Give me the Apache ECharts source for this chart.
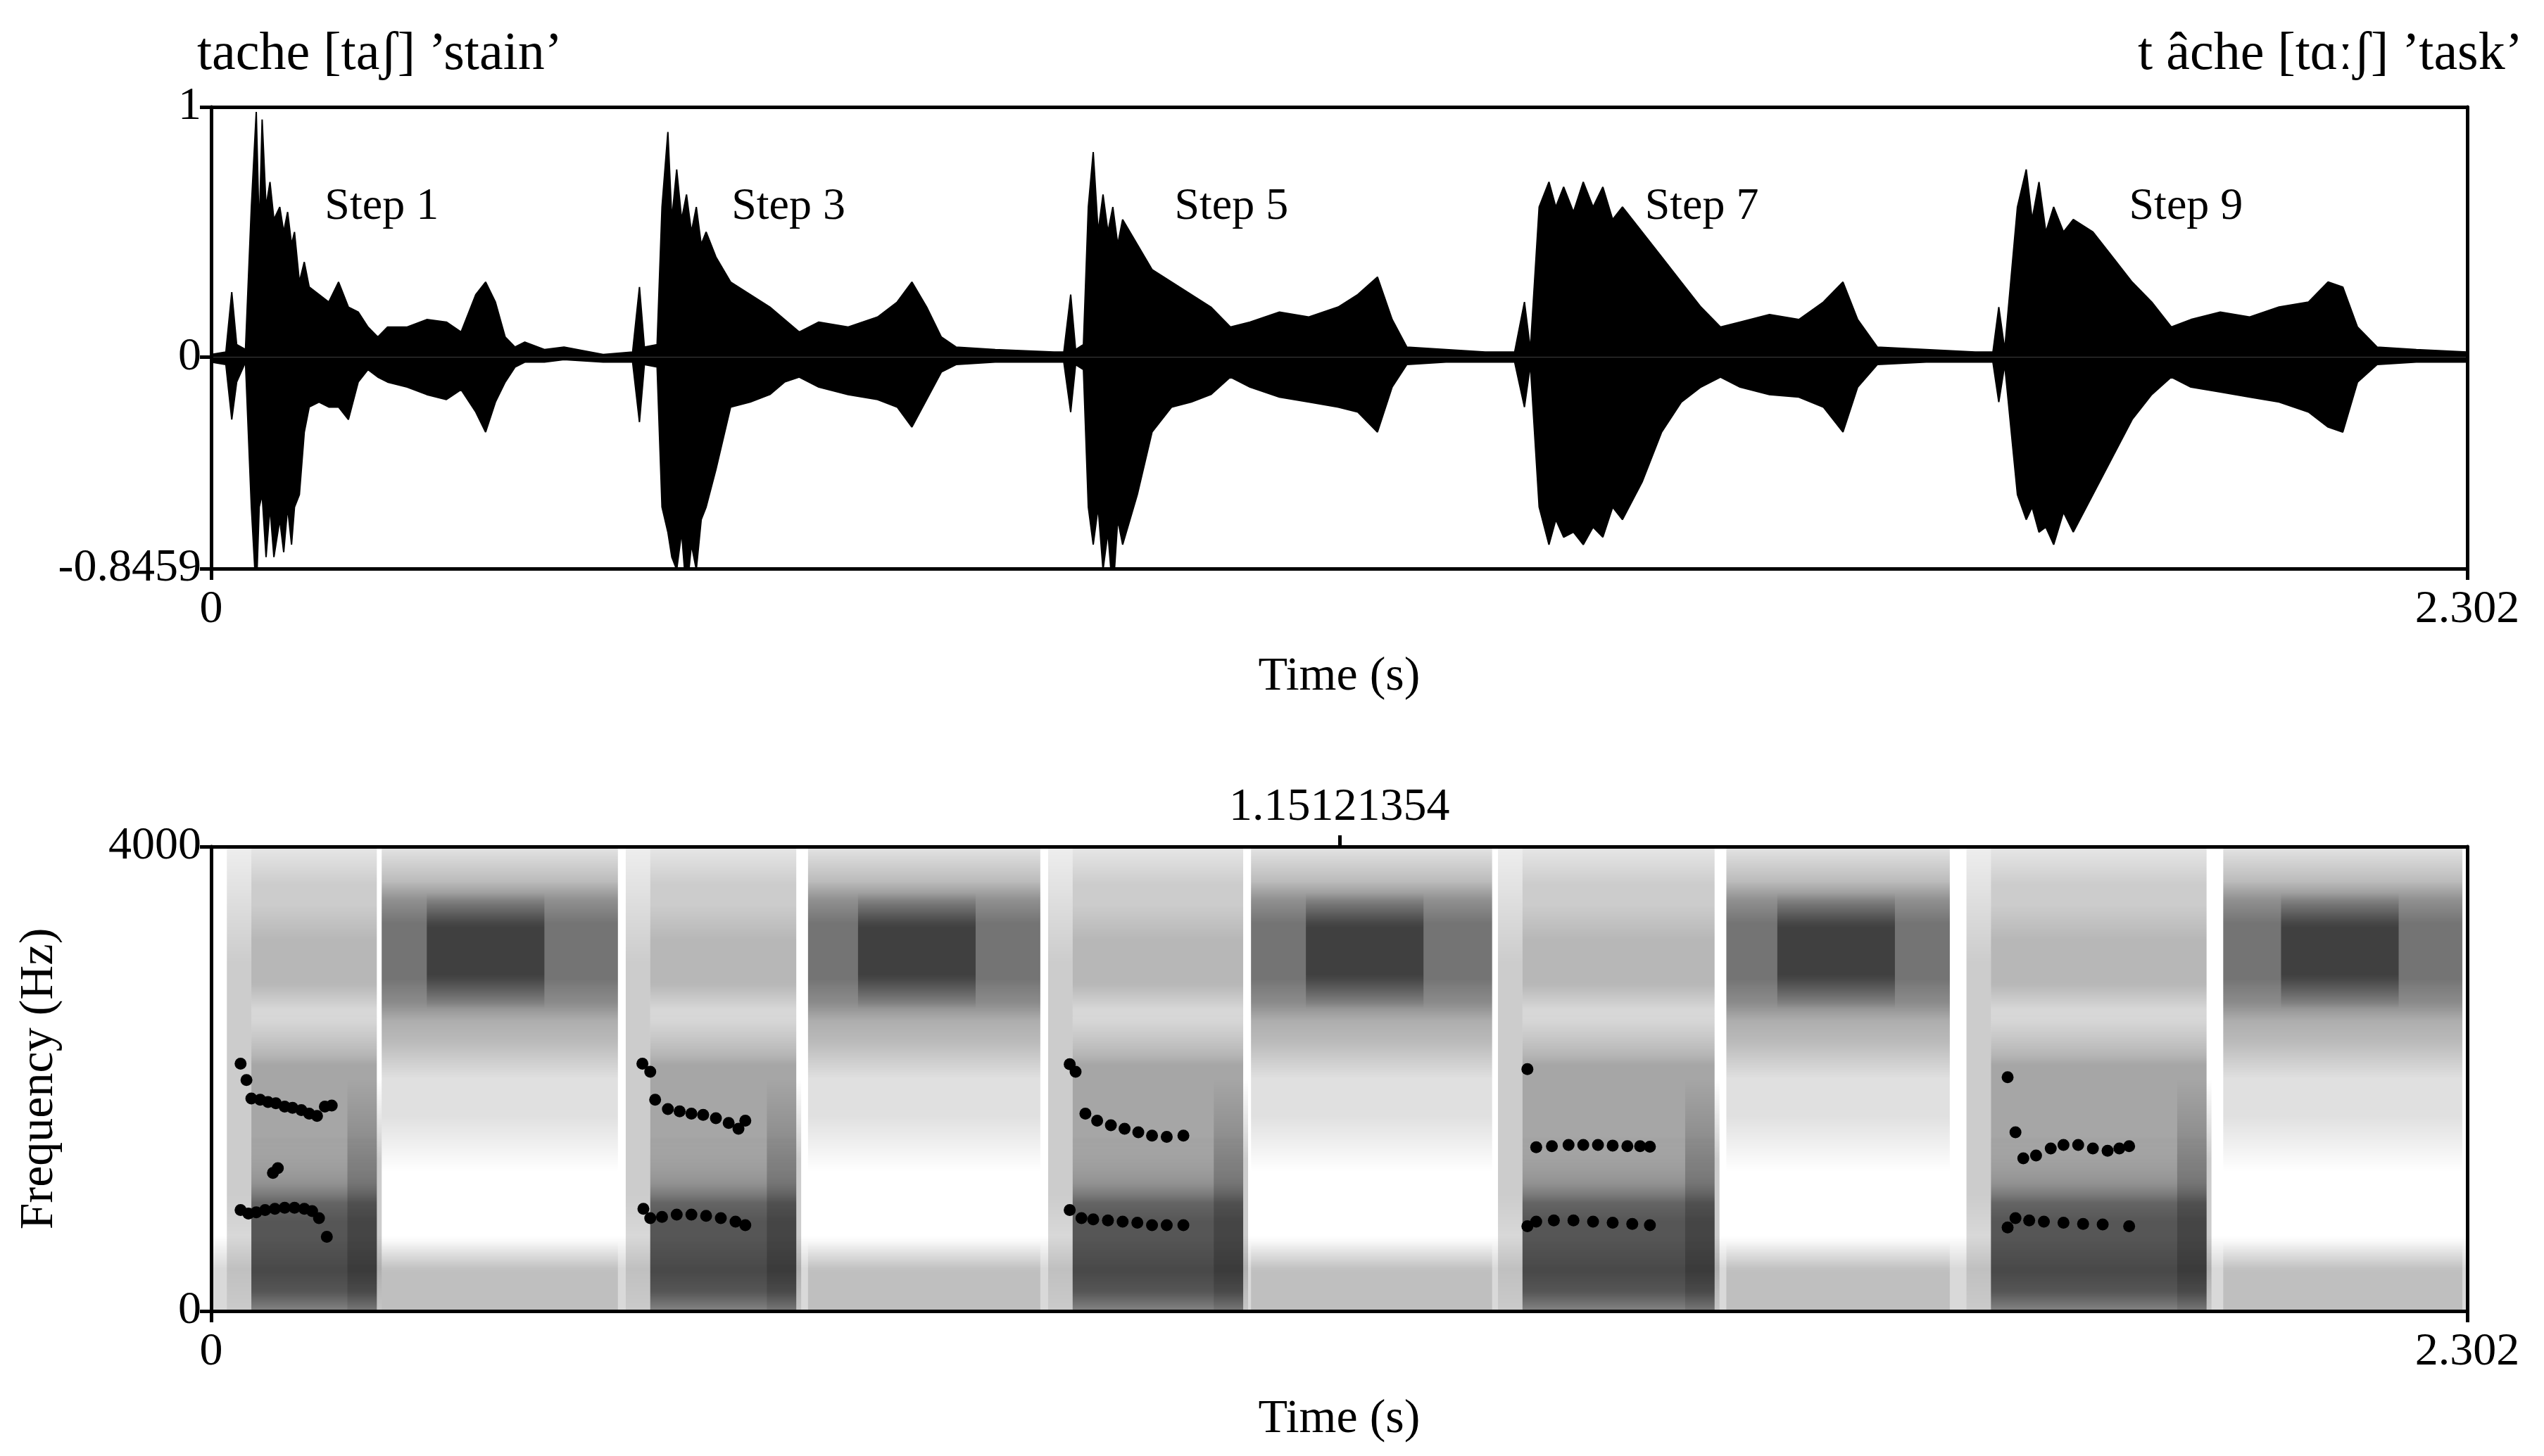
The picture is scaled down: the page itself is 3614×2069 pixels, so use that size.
<!DOCTYPE html><html><head><meta charset="utf-8"><script src="https://cdn.jsdelivr.net/npm/echarts@6/dist/echarts.min.js"></script>
<style>html,body{margin:0;background:#fff}#c{width:3614px;height:2069px}</style></head><body><div id="c"></div><script>
// waveform envelope [t, upper, lower]
const envelope=[
[0,0.01,-0.02],[0.015,0.02,-0.03],[0.021,0.26,-0.25],[0.026,0.05,-0.1],[0.035,0.03,-0.02],[0.041,0.6,-0.6],[0.046,0.98,-0.95],[0.049,0.5,-0.6],[0.052,0.95,-0.55],[0.056,0.6,-0.8],[0.06,0.7,-0.6],[0.064,0.55,-0.8],[0.07,0.6,-0.65],[0.074,0.5,-0.78],[0.078,0.58,-0.6],[0.082,0.45,-0.75],[0.085,0.5,-0.6],[0.09,0.3,-0.55],[0.095,0.38,-0.3],[0.1,0.28,-0.2],[0.11,0.25,-0.18],[0.12,0.22,-0.2],[0.13,0.3,-0.2],[0.14,0.2,-0.25],[0.15,0.18,-0.1],[0.16,0.12,-0.05],[0.17,0.08,-0.08],[0.18,0.12,-0.1],[0.2,0.12,-0.12],[0.22,0.15,-0.15],[0.24,0.14,-0.17],[0.255,0.1,-0.13],[0.27,0.25,-0.22],[0.28,0.3,-0.3],[0.29,0.22,-0.18],[0.3,0.08,-0.1],[0.31,0.04,-0.04],[0.32,0.06,-0.02],[0.34,0.03,-0.02],[0.36,0.04,-0.01],[0.4,0.01,-0.02],
[0.43,0.02,-0.02],[0.437,0.28,-0.26],[0.442,0.04,-0.03],[0.455,0.05,-0.04],[0.46,0.6,-0.6],[0.466,0.9,-0.7],[0.47,0.55,-0.8],[0.475,0.75,-0.85],[0.48,0.55,-0.7],[0.485,0.65,-0.95],[0.49,0.5,-0.75],[0.495,0.6,-0.85],[0.5,0.45,-0.65],[0.505,0.5,-0.6],[0.515,0.4,-0.45],[0.53,0.3,-0.2],[0.55,0.25,-0.18],[0.57,0.2,-0.15],[0.585,0.15,-0.1],[0.6,0.1,-0.08],[0.62,0.14,-0.12],[0.65,0.12,-0.15],[0.68,0.16,-0.17],[0.7,0.22,-0.2],[0.715,0.3,-0.28],[0.73,0.2,-0.17],[0.745,0.08,-0.06],[0.76,0.04,-0.03],[0.8,0.03,-0.02],[0.86,0.02,-0.02],
[0.87,0.02,-0.02],[0.877,0.25,-0.22],[0.882,0.03,-0.03],[0.89,0.05,-0.05],[0.895,0.6,-0.6],[0.9,0.82,-0.75],[0.905,0.5,-0.6],[0.91,0.65,-0.85],[0.915,0.5,-0.7],[0.92,0.6,-0.95],[0.925,0.45,-0.65],[0.93,0.55,-0.75],[0.945,0.45,-0.55],[0.96,0.35,-0.3],[0.98,0.3,-0.2],[1.0,0.25,-0.18],[1.02,0.2,-0.15],[1.04,0.12,-0.08],[1.06,0.14,-0.12],[1.09,0.18,-0.16],[1.12,0.16,-0.18],[1.15,0.2,-0.2],[1.17,0.25,-0.22],[1.19,0.32,-0.3],[1.205,0.15,-0.12],[1.22,0.04,-0.03],[1.26,0.03,-0.02],[1.3,0.02,-0.02],
[1.33,0.02,-0.02],[1.34,0.22,-0.2],[1.346,0.03,-0.03],[1.355,0.6,-0.6],[1.365,0.7,-0.75],[1.372,0.6,-0.65],[1.38,0.68,-0.72],[1.39,0.58,-0.7],[1.4,0.7,-0.75],[1.41,0.6,-0.68],[1.42,0.68,-0.72],[1.43,0.55,-0.6],[1.44,0.6,-0.65],[1.46,0.5,-0.5],[1.48,0.4,-0.3],[1.5,0.3,-0.18],[1.52,0.2,-0.12],[1.54,0.12,-0.08],[1.56,0.14,-0.12],[1.59,0.17,-0.15],[1.62,0.15,-0.16],[1.645,0.22,-0.2],[1.665,0.3,-0.3],[1.68,0.15,-0.12],[1.7,0.04,-0.03],[1.75,0.03,-0.02],[1.8,0.02,-0.02],
[1.818,0.02,-0.02],[1.824,0.2,-0.18],[1.83,0.03,-0.03],[1.843,0.6,-0.55],[1.852,0.75,-0.65],[1.858,0.55,-0.6],[1.865,0.7,-0.7],[1.872,0.5,-0.68],[1.88,0.6,-0.75],[1.89,0.5,-0.62],[1.9,0.55,-0.7],[1.92,0.5,-0.55],[1.94,0.4,-0.4],[1.96,0.3,-0.25],[1.98,0.22,-0.15],[2.0,0.12,-0.08],[2.02,0.15,-0.12],[2.05,0.18,-0.14],[2.08,0.16,-0.16],[2.11,0.2,-0.18],[2.14,0.22,-0.22],[2.16,0.3,-0.28],[2.175,0.28,-0.3],[2.19,0.12,-0.1],[2.21,0.04,-0.03],[2.25,0.03,-0.02],[2.302,0.02,-0.02]];
const stepLabels=[[0.174,0.6,'Step 1'],[0.589,0.6,'Step 3'],[1.041,0.6,'Step 5'],[1.521,0.6,'Step 7'],[2.015,0.6,'Step 9']];
// spectrogram spans (s)
const vowelSpans=[[0.041,0.169],[0.448,0.597],[0.879,1.053],[1.338,1.534],[1.816,2.036]];
const fricSpans=[[0.174,0.415],[0.609,0.846],[1.061,1.307],[1.546,1.774],[2.053,2.297]];
const fricCores=[0.28,0.72,1.177,1.658,2.172];
// layers [fLow, fHigh, darkness]
const vowelLayers=[[-400,1500,0.55],[0,1100,0.25],[1000,2600,0.35],[2200,4300,0.2],[2500,3500,0.1]];
const fricLayers=[[1200,2800,0.12],[2000,4200,0.35],[2500,3700,0.3],[-300,600,0.12]];
const noiseBand=[[0,2.302,-300,650,0.15]];
const F2=[[[0.030,2130],[0.036,1990],[0.041,1830],[0.050,1820],[0.058,1800],[0.066,1790],[0.075,1760],[0.083,1750],[0.092,1730],[0.100,1700],[0.108,1680],[0.116,1760],[0.123,1770],[0.063,1190],[0.068,1230]],
[[0.440,2130],[0.448,2060],[0.453,1820],[0.466,1740],[0.478,1720],[0.49,1700],[0.502,1690],[0.515,1660],[0.528,1620],[0.538,1570],[0.545,1640]],
[[0.876,2126],[0.882,2060],[0.892,1700],[0.904,1640],[0.918,1600],[0.932,1570],[0.946,1540],[0.96,1510],[0.975,1500],[0.992,1510]],
[[1.343,2084],[1.352,1410],[1.368,1420],[1.385,1430],[1.4,1430],[1.415,1430],[1.43,1425],[1.445,1420],[1.458,1420],[1.468,1415]],
[[1.833,2014],[1.841,1540],[1.849,1315],[1.862,1340],[1.877,1400],[1.89,1430],[1.905,1430],[1.92,1400],[1.935,1380],[1.947,1400],[1.957,1420]]];
const F1=[[[0.030,870],[0.038,840],[0.046,850],[0.055,870],[0.065,880],[0.075,890],[0.085,890],[0.095,880],[0.103,860],[0.110,800],[0.118,640]],
[[0.441,880],[0.448,800],[0.46,810],[0.475,830],[0.49,830],[0.505,820],[0.52,800],[0.535,770],[0.545,740]],
[[0.876,870],[0.888,800],[0.9,790],[0.915,780],[0.93,770],[0.945,760],[0.96,740],[0.975,740],[0.992,740]],
[[1.343,730],[1.352,770],[1.37,780],[1.39,780],[1.41,770],[1.43,760],[1.45,750],[1.468,740]],
[[1.833,720],[1.841,800],[1.855,780],[1.87,770],[1.89,760],[1.91,750],[1.93,745],[1.957,730]]];
const cursorTime=1.15121354;

const rects=[];
noiseBand.forEach(r=>rects.push(r));
vowelSpans.forEach(s=>{rects.push([s[0]-0.025,s[0],-500,4500,0.2]);vowelLayers.forEach(l=>rects.push([s[0],s[1],l[0],l[1],l[2]]));rects.push([s[1]-0.03,s[1]+0.005,-300,2000,0.2]);});
fricSpans.forEach((s,i)=>{fricLayers.forEach(l=>rects.push([s[0],s[1],l[0],l[1],l[2]]));rects.push([fricCores[i]-0.06,fricCores[i]+0.06,2600,3600,0.45]);});
const F=' "Liberation Serif", serif';
const c=echarts.init(document.getElementById('c'));
const line={show:true,onZero:false,lineStyle:{color:'#000',width:5}};
const tick={lineStyle:{color:'#000',width:5},length:16};
const lab={color:'#000',fontSize:66,fontFamily:F};
const frame=(g,pos)=>({type:'value',gridIndex:g,position:pos,axisLine:line,axisTick:{show:false},axisLabel:{show:false},splitLine:{show:false}});
const pts=F2.flat().concat(F1.flat());
const nameStyle={color:'#000',fontSize:68,fontFamily:F};
c.setOption({animation:false,
grid:[{left:300,right:109,top:152,height:656},{left:300,right:109,top:1203,height:660}],
xAxis:[{type:'value',gridIndex:0,min:0,max:2.302,axisLine:line,splitLine:{show:false},axisTick:{...tick,customValues:[0,2.302]},axisLabel:{...lab,customValues:[0,2.302],margin:26},name:'Time (s)',nameLocation:'middle',nameGap:120,nameTextStyle:nameStyle},
{...frame(0,'top'),min:0,max:2.302},
{type:'value',gridIndex:1,min:0,max:2.302,axisLine:line,splitLine:{show:false},axisTick:{...tick,customValues:[0,2.302]},axisLabel:{...lab,customValues:[0,2.302],margin:26},name:'Time (s)',nameLocation:'middle',nameGap:120,nameTextStyle:nameStyle},
{type:'value',gridIndex:1,position:'top',min:0,max:2.302,axisLine:line,splitLine:{show:false},axisTick:{...tick,customValues:[cursorTime]},axisLabel:{...lab,customValues:[cursorTime],formatter:v=>v.toFixed(8),margin:22}}],
yAxis:[{type:'value',gridIndex:0,min:-0.8459,max:1,axisLine:line,splitLine:{show:false},axisTick:{...tick,customValues:[-0.8459,0,1]},axisLabel:{...lab,customValues:[-0.8459,0,1],formatter:v=>String(v),margin:14}},
{...frame(0,'right'),min:-0.8459,max:1},
{type:'value',gridIndex:1,min:0,max:4000,axisLine:line,splitLine:{show:false},axisTick:{...tick,customValues:[0,4000]},axisLabel:{...lab,customValues:[0,4000],formatter:v=>String(v),margin:14},name:'Frequency (Hz)',nameLocation:'middle',nameGap:210,nameTextStyle:nameStyle},
{...frame(1,'right'),min:0,max:4000}],
series:[
{type:'line',xAxisIndex:0,yAxisIndex:0,data:envelope.map(d=>[d[0],d[1]]),symbol:'none',lineStyle:{color:'#000',width:2},areaStyle:{color:'#000',opacity:1,origin:0}},
{type:'line',xAxisIndex:0,yAxisIndex:0,data:envelope.map(d=>[d[0],d[2]]),symbol:'none',lineStyle:{color:'#000',width:2},areaStyle:{color:'#000',opacity:1,origin:0}},
{type:'scatter',xAxisIndex:0,yAxisIndex:0,data:stepLabels,symbolSize:1,itemStyle:{color:'rgba(0,0,0,0)'},label:{show:true,formatter:p=>p.data[2],color:'#000',opacity:1,fontSize:64,fontFamily:F,position:'inside'},z:5},
{type:'custom',xAxisIndex:2,yAxisIndex:2,clip:true,data:rects,renderItem:(p,api)=>{const a=api.coord([api.value(0),api.value(3)]),b=api.coord([api.value(1),api.value(2)]);const k='rgba(0,0,0,'+api.value(4)+')',z='rgba(0,0,0,0)';return {type:'rect',shape:{x:a[0],y:a[1],width:b[0]-a[0],height:b[1]-a[1]},style:{fill:new echarts.graphic.LinearGradient(0,0,0,1,[{offset:0,color:z},{offset:0.3,color:k},{offset:0.7,color:k},{offset:1,color:z}])}};}},
{type:'scatter',xAxisIndex:2,yAxisIndex:2,data:pts,symbolSize:17,itemStyle:{color:'#000',opacity:1}}
],
graphic:[{type:'text',left:280,top:40,style:{text:'tache [taʃ] ’stain’',fontSize:76,fontFamily:F,fill:'#000'}},
{type:'text',right:30,top:40,style:{text:'t âche [tɑːʃ] ’task’',fontSize:76,fontFamily:F,fill:'#000'}}]
});
</script></body></html>
